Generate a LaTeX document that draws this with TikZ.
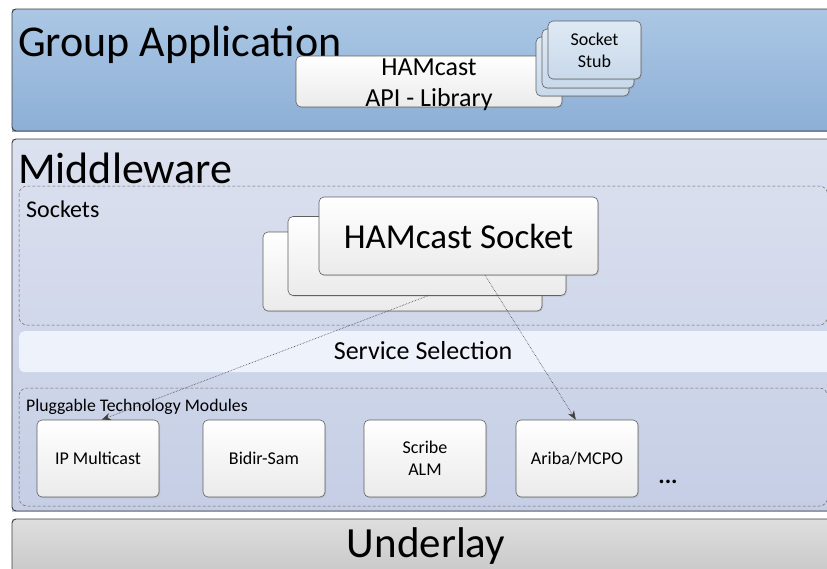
\documentclass[tikz,border=0pt]{standalone}
\usepackage{fontspec}
\setmainfont{Carlito}
\usetikzlibrary{arrows.meta,shadows,calc}
\definecolor{edge}{HTML}{3C3C3C}
\definecolor{boxedge}{HTML}{606060}
\definecolor{gatop}{HTML}{ABC7E4}
\definecolor{gabot}{HTML}{8DAFD6}
\definecolor{mwtop}{HTML}{DCE1EF}
\definecolor{mwbot}{HTML}{C5CEE5}
\definecolor{ultop}{HTML}{DEDEDE}
\definecolor{ulbot}{HTML}{C6C6C6}
\definecolor{stubtop}{HTML}{DFE9F4}
\definecolor{stubbot}{HTML}{C8D9EB}
\definecolor{ssfill}{HTML}{EEF2FB}
\tikzset{
  panel/.style={draw=edge, line width=0.9pt, rounded corners=4pt},
  region/.style={draw=gray!80!black, densely dashed, line width=0.5pt, rounded corners=8pt},
  wbox/.style={draw=boxedge, line width=0.6pt, rounded corners=5pt, top color=white, bottom color=black!8,
    drop shadow={shadow xshift=1pt, shadow yshift=-1.2pt, opacity=0.25}},
  stubbox/.style={draw=boxedge, line width=0.6pt, rounded corners=5pt, top color=stubtop, bottom color=stubbot,
    drop shadow={shadow xshift=1pt, shadow yshift=-1.2pt, opacity=0.25}},
  modbox/.style={wbox, minimum width=122pt, minimum height=77pt, font=\fontsize{18}{22}\selectfont, align=center, inner sep=0pt},
  link/.style={draw=black!75, line width=0.6pt, densely dotted, -{Stealth[length=9pt,width=7pt]}},
}
\begin{document}
\begin{tikzpicture}[x=1pt,y=-1pt]
\clip (0,0) rectangle (827,568);
\fill[white] (0,0) rectangle (827,568);
% Group Application panel
\shade[top color=gatop, bottom color=gabot] (12,9) rectangle (840,131);
\draw[panel] (12,9) rectangle (840,131);
\node[anchor=base west, inner sep=0pt, font=\fontsize{44}{44}\selectfont] (ga) at (18,56) {Group Application};
% API library
\node[wbox, minimum width=266pt, minimum height=51pt, inner sep=0pt] (api) at (429,81.5) {};
\node[inner sep=0pt, align=center, font=\fontsize{26}{31}\selectfont] (apitext) at ($(api.center)+(0,3)$) {HAMcast\\API - Library};
% Socket stubs
\node[stubbox, minimum width=93pt, minimum height=59pt] (stubC) at (582.5,66.5) {};
\node[stubbox, minimum width=92pt, minimum height=59pt] (stubB) at (588,58.5) {};
\node[stubbox, minimum width=93pt, minimum height=58pt, inner sep=0pt, align=center, font=\fontsize{18}{22}\selectfont] (stubA) at (594.5,50) {Socket\\Stub};
% Middleware panel
\shade[top color=mwtop, bottom color=mwbot] (12,139) rectangle (840,511);
\draw[panel] (12,139) rectangle (840,511);
\node[anchor=base west, inner sep=0pt, font=\fontsize{44}{44}\selectfont] (mw) at (18,183) {Middleware};
% Sockets region
\draw[region] (19,186) rectangle (827.5,325);
\node[anchor=base west, inner sep=0pt, font=\fontsize{24}{24}\selectfont] (sk) at (26,217) {Sockets};
\node[wbox, minimum width=279pt, minimum height=79pt] (sockC) at (402.5,271.5) {};
\node[wbox, minimum width=278pt, minimum height=79pt] (sockB) at (427,256) {};
\node[wbox, minimum width=279pt, minimum height=78pt, font=\fontsize{35}{35}\selectfont] (sockA) at (458.5,236) {HAMcast Socket};
% Service selection
\node[fill=ssfill, rounded corners=5pt, minimum width=820pt, minimum height=41pt, anchor=north west, inner sep=0pt] (ssbg) at (19,331) {};
\node[font=\fontsize{26}{26}\selectfont] (ss) at (423,351) {Service Selection};
% Pluggable modules region
\draw[region] (19,388) rectangle (827.5,506);
\node[anchor=base west, inner sep=0pt, font=\fontsize{17.7}{18}\selectfont] (ptm) at (26,411) {Pluggable Technology Modules};
\node[modbox] (ipm) at (98,458.5) {IP Multicast};
\node[modbox] (bidir) at (264,458.5) {Bidir-Sam};
\node[modbox] (scribe) at (425,458.5) {Scribe\\ALM};
\node[modbox] (ariba) at (577,458.5) {Ariba/MCPO};
\node[font=\bfseries\fontsize{24}{24}\selectfont, inner sep=0pt] (dots) at (668,482) {...};
% Underlay
\shade[top color=ultop, bottom color=ulbot] (12,519) rectangle (840,580);
\draw[panel] (12,519) rectangle (840,580);
\node[inner sep=0pt, font=\fontsize{43}{43}\selectfont] (ul) at (426,546) {Underlay};
% connectors
\coordinate (s1) at ($(sockB.south west)!0.503!(sockB.south east)$);
\coordinate (s2) at ($(sockA.south west)!0.595!(sockA.south east)$);
\draw[link] (s1) -- ($(ipm.north west)!0.53!(ipm.north east)$);
\draw[link] (s2) -- ($(ariba.north west)!0.49!(ariba.north east)$);
\end{tikzpicture}
\end{document}
